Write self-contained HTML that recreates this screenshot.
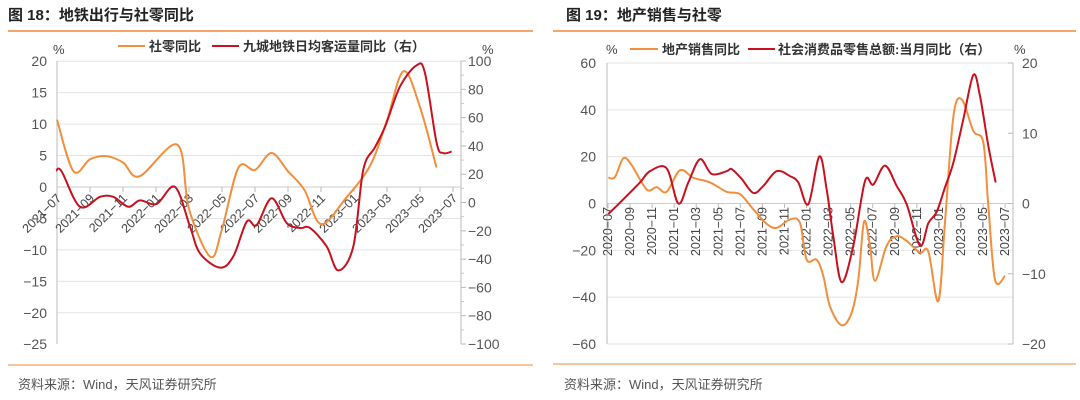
<!DOCTYPE html>
<html><head><meta charset="utf-8">
<style>
body{margin:0;width:1080px;height:400px;background:#fff;overflow:hidden;font-family:"Liberation Sans","Noto Sans CJK SC",sans-serif;}
svg{position:absolute;left:0;top:0}
</style></head>
<body>
<svg id="c" width="1080" height="400"></svg>
<script>
// ---- Chart 18 data ----
const c1Months = ["2021-07","2021-09","2021-11","2022-01","2022-03","2022-05","2022-07","2022-09","2022-11","2023-01","2023-03","2023-05","2023-07"];
const c1RetailIdx = [0,1,2,3,4,5,7.3,8,9.3,10,11,12,13,14,15,16,17.5,19,20,21,22,23];
const c1RetailVal = [10.7,2.5,4.4,4.9,3.9,1.7,6.7,-3.5,-11.1,-6.7,3.1,2.7,5.4,2.5,-0.5,-5.9,-1.8,3.5,10.6,18.4,12.7,3.1];
const c1MetroIdx = [-0.06,0.28,1.39,2.61,3.41,4.32,5.03,6.04,7.15,8.06,8.67,9.88,10.69,11.5,12.1,13.01,13.92,14.73,15.33,16.34,17.05,17.96,18.56,19.27,19.88,20.79,21.8,22.3,23.01,23.41,23.92];
const c1MetroVal = [22.5,22,-3,4,4,-3,1.5,-1,11,-17,-36,-46,-38,-13.5,-16,3,-14.5,-18,-18,-31,-48,-31,23,39,53.5,82,97,91.5,42,35,36];
// ---- Chart 19 data ----
const c2Months = ["2020-07","2020-09","2020-11","2021-01","2021-03","2021-05","2021-07","2021-09","2021-11","2022-01","2022-03","2022-05","2022-07","2022-09","2022-11","2023-01","2023-03","2023-05","2023-07"];
const c2PropX = [205,225,250,275,320,350,380,420,460,510,560,600,640,680,710,750,780,800,830,850,870,905,935,955,972,990,1005,1040,1070,1100,1140,1165,1195,1215,1240,1265,1300,1330,1345,1365,1395];
const c2PropVal = [11,11.3,19.3,16.4,6,7,5,14.2,11,9,5,4,-2.5,-8.7,-10.4,-6.8,-8.3,-24,-24,-31,-44,-52,-46.6,-32.5,-7.8,-18,-33,-18,-14,-16,-21,-20.5,-41.7,-8,37,44.5,31,26,-1,-32.5,-31];
const c2RetX = [205,250,300,330,380,415,445,480,515,560,575,605,640,670,710,750,775,805,838,860,880,905,940,975,1000,1035,1070,1100,1140,1165,1190,1215,1240,1270,1300,1320,1345,1367];
const c2RetVal = [-1.5,0.6,3,4.6,5,0,3,6.3,4.2,4.6,4.9,3.5,1.5,2.5,4.6,3.9,3,-0.1,6.7,2,-4.7,-11.2,-6,3.2,2.7,5.4,2.5,-0.1,-6,-2.8,-1.2,2.3,5.8,12,18.3,15.3,8.2,3];

const svg=document.getElementById('c');
const NS='http://www.w3.org/2000/svg';
function el(tag,attrs,parent){const e=document.createElementNS(NS,tag);for(const k in attrs)e.setAttribute(k,attrs[k]);(parent||svg).appendChild(e);return e;}
function txt(s,attrs,parent){const e=el('text',attrs,parent);e.textContent=s;return e;}
function smooth(pts){let d='M'+pts[0][0]+','+pts[0][1];for(let i=0;i<pts.length-1;i++){const p0=pts[i-1]||pts[i],p1=pts[i],p2=pts[i+1],p3=pts[i+2]||p2;const t=6;d+=' C'+(p1[0]+(p2[0]-p0[0])/t)+','+(p1[1]+(p2[1]-p0[1])/t)+' '+(p2[0]-(p3[0]-p1[0])/t)+','+(p2[1]-(p3[1]-p1[1])/t)+' '+p2[0]+','+p2[1];}return d;}

// ---------- Chart 18 ----------
{
const L=57,R=461,T=61,B=344;
const yL=v=>187+(0-v)*(B-T)/45, yR=v=>202.5-v*(B-T)/200, xM=i=>57+i*16.5;
let t=txt('图 18：地铁出行与社零同比',{x:8,y:20,'font-size':15,'font-weight':'bold',fill:'#222'});

let l=el('line',{x1:8,y1:31,x2:533,y2:31,stroke:'#f0883a','stroke-width':1.5});
l=el('line',{x1:8,y1:365,x2:533,y2:365,stroke:'#f0883a','stroke-width':1});
t=txt('资料来源：Wind，天风证券研究所',{x:18,y:389,'font-size':13,fill:'#555'});
for(let v=20;v>=-25;v-=5){const y=yL(v);
 if(v!==-25){const g=el('line',{x1:L,y1:y,x2:R,y2:y,stroke:'#e4e4e4','stroke-width':1});}
 const tk=txt(String(v).replace('-','−'),{x:47,y:y+5,'font-size':14,fill:'#555','text-anchor':'end'});}
for(let v=100;v>=-100;v-=20){const y=yR(v);
 const tk=txt(String(v).replace('-','−'),{x:468,y:y+5,'font-size':14,fill:'#555'});
 el('line',{x1:R,y1:y,x2:R+5,y2:y,stroke:'#bbb'});if(v>-100)el('line',{x1:R,y1:y+14.15,x2:R+3,y2:y+14.15,stroke:'#ccc'});}
l=el('line',{x1:L,y1:T,x2:L,y2:B,stroke:'#bbb'});
l=el('line',{x1:R,y1:T,x2:R,y2:B,stroke:'#bbb'});
l=el('line',{x1:L,y1:187,x2:R,y2:187,stroke:'#ccc'});
c1Months.forEach((m,i)=>{const x=xM(i*2);el('line',{x1:x,y1:187,x2:x,y2:192,stroke:'#bbb'});
 const tk=txt(m.replace('-','−'),{x:x+5,y:199,'font-size':12.5,fill:'#444','text-anchor':'end',transform:`rotate(-45 ${x+5} 199)`});});
let p=el('path',{d:smooth(c1RetailIdx.map((i,k)=>[xM(i),yL(c1RetailVal[k])])),fill:'none',stroke:'#f28e3c','stroke-width':2});
p=el('path',{d:smooth(c1MetroIdx.map((i,k)=>[xM(i),yR(c1MetroVal[k])])),fill:'none',stroke:'#c8101e','stroke-width':2});
t=txt('%',{x:53,y:54,'font-size':13,fill:'#444'});
t=txt('%',{x:482,y:54,'font-size':13,fill:'#444'});
const lg=el('g',{});
el('line',{x1:118,y1:46,x2:145,y2:46,stroke:'#f28e3c','stroke-width':2},lg);
txt('社零同比',{x:149,y:51,'font-size':13,'font-weight':'bold',fill:'#333'},lg);
el('line',{x1:212,y1:46,x2:239,y2:46,stroke:'#c8101e','stroke-width':2},lg);
txt('九城地铁日均客运量同比（右）',{x:243,y:51,'font-size':13,'font-weight':'bold',fill:'#333'},lg);
}
// ---------- Chart 19 ----------
{
const L=607,R=1013,T=63,B=344;
const yL=v=>203.5-v*(B-T)/120, yR=v=>203.5-v*(B-T)/40, xZ=z=>540+z/3, xM=i=>608+i*11.03;
let t=txt('图 19：地产销售与社零',{x:566,y:20,'font-size':15,'font-weight':'bold',fill:'#222'});

let l=el('line',{x1:553,y1:31,x2:1076,y2:31,stroke:'#f0883a','stroke-width':1.5});
l=el('line',{x1:553,y1:364,x2:1076,y2:364,stroke:'#f0883a','stroke-width':1});
t=txt('资料来源：Wind，天风证券研究所',{x:564,y:389,'font-size':13,fill:'#555'});
for(let v=60;v>=-60;v-=20){const y=yL(v);
 const g=el('line',{x1:L,y1:y,x2:R,y2:y,stroke:v===0?'#ccc':'#e4e4e4'});
 const tk=txt(String(v).replace('-','−'),{x:596,y:y+5,'font-size':14,fill:'#555','text-anchor':'end'});}
for(let v=20;v>=-20;v-=10){const y=yR(v);el('line',{x1:R,y1:y,x2:R-5,y2:y,stroke:'#bbb'});
 const tk=txt(String(v).replace('-','−'),{x:1022,y:y+5,'font-size':14,fill:'#555'});}
l=el('line',{x1:L,y1:T,x2:L,y2:B,stroke:'#bbb'});
l=el('line',{x1:R,y1:T,x2:R,y2:B,stroke:'#bbb'});
c2Months.forEach((m,i)=>{const x=xM(i*2);el('line',{x1:x,y1:203.5,x2:x,y2:208,stroke:'#bbb'});
 const tk=txt(m.replace('-','−'),{x:x+4,y:207,'font-size':12.5,fill:'#444','text-anchor':'end',transform:`rotate(-90 ${x+4} 207)`});});
let p=el('path',{d:smooth(c2PropX.map((z,k)=>[xZ(z),yL(c2PropVal[k])])),fill:'none',stroke:'#f28e3c','stroke-width':2});
p=el('path',{d:smooth(c2RetX.map((z,k)=>[xZ(z),yR(c2RetVal[k])])),fill:'none',stroke:'#c8101e','stroke-width':2});
t=txt('%',{x:606,y:54,'font-size':13,fill:'#444'});
t=txt('%',{x:1014,y:54,'font-size':13,fill:'#444'});
const lg=el('g',{});
el('line',{x1:630,y1:49,x2:658,y2:49,stroke:'#f28e3c','stroke-width':2},lg);
txt('地产销售同比',{x:662,y:54,'font-size':13,'font-weight':'bold',fill:'#333'},lg);
el('line',{x1:748,y1:49,x2:775,y2:49,stroke:'#c8101e','stroke-width':2},lg);
txt('社会消费品零售总额:当月同比（右）',{x:778,y:54,'font-size':13,'font-weight':'bold',fill:'#333'},lg);
}
</script>
</body></html>
